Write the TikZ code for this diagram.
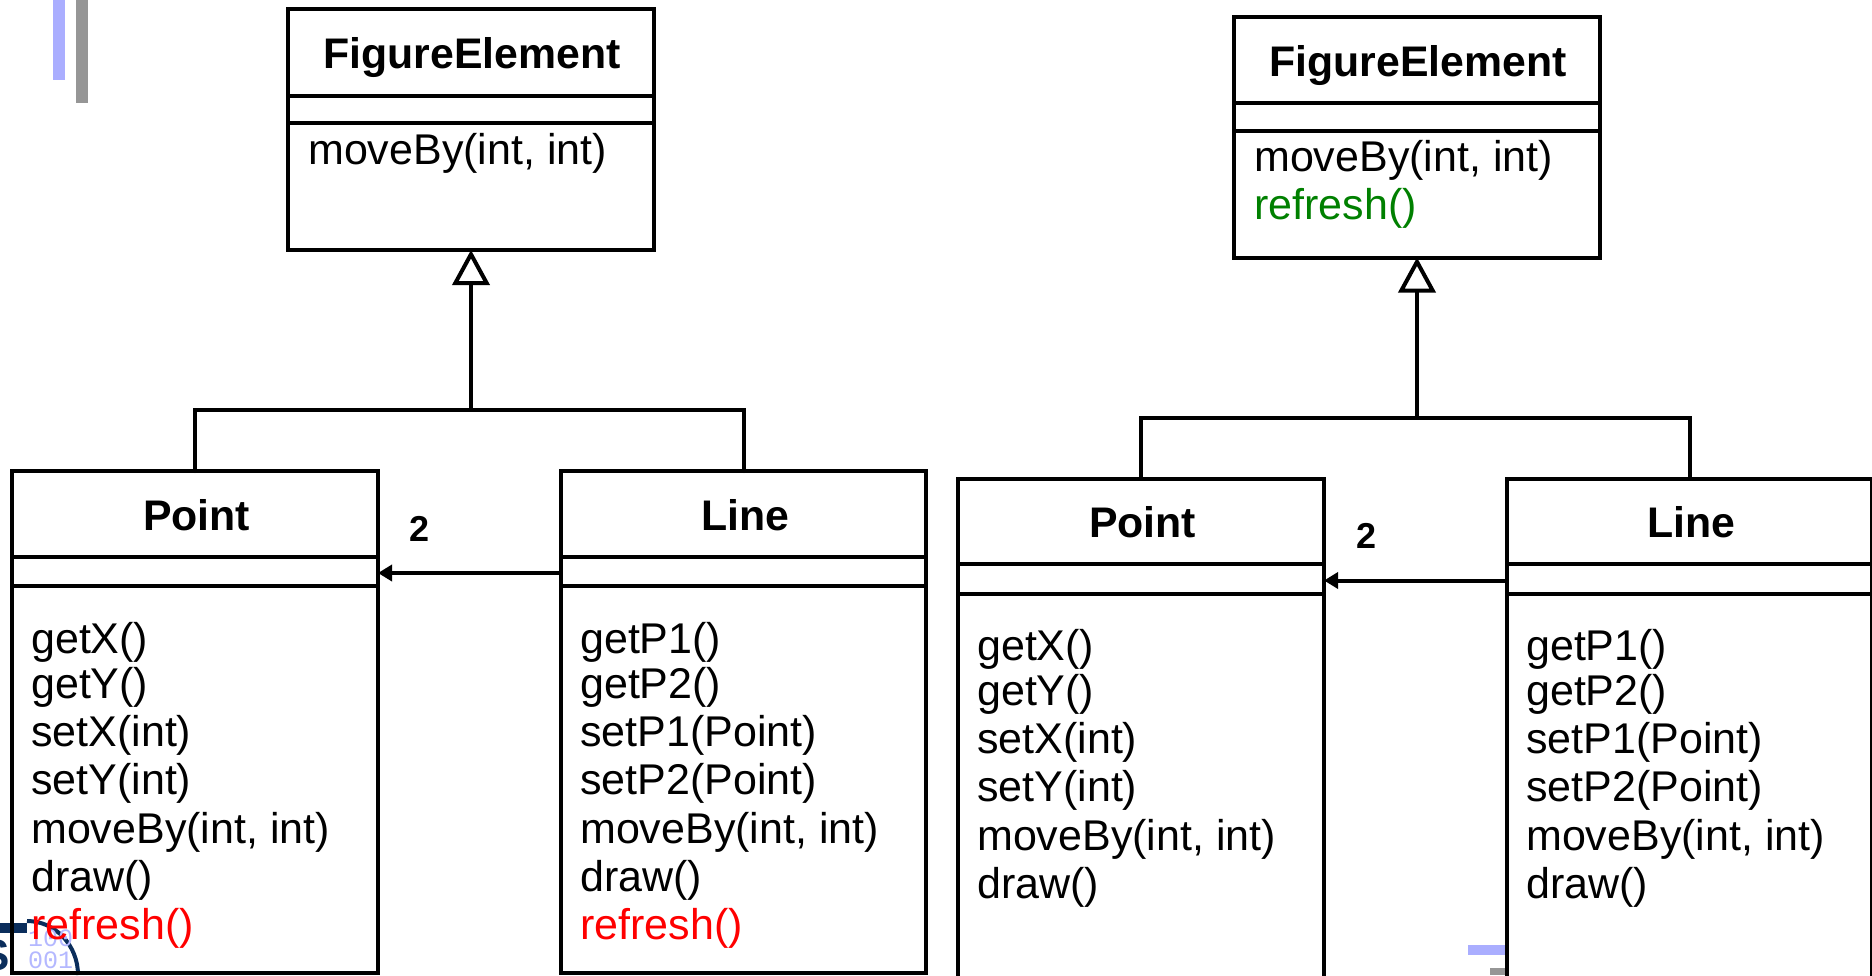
\documentclass[tikz,border=0pt]{standalone}
\usepackage{fontspec}
\setmainfont{Liberation Sans}
\newfontfamily\logomono{Liberation Mono}
\usetikzlibrary{arrows.meta}
\definecolor{logoblue}{HTML}{0B2E5C}
\definecolor{logolight}{HTML}{B4B8FF}
\definecolor{barblue}{HTML}{AAAEFF}
\definecolor{bargray}{HTML}{969696}
\definecolor{addgreen}{HTML}{008000}
\tikzset{
  x=1pt,y=-1pt,
  classbox/.style={draw=black,line width=4pt,rectangle,inner sep=0pt,outer sep=0pt,line join=miter},
  divider/.style={draw=black,line width=4pt},
  title/.style={font=\fontsize{42.8pt}{46pt}\selectfont\bfseries,inner sep=0pt,anchor=base},
  member/.style={font=\fontsize{43pt}{46pt}\selectfont,inner sep=0pt,anchor=base west},
  mult/.style={font=\fontsize{36pt}{40pt}\selectfont\bfseries,inner sep=0pt,anchor=base},
  inherit/.style={draw=black,line width=4pt,-{Triangle[open,length=35pt,width=37pt,line width=4pt,fill=white]}},
  assoc/.style={draw=black,line width=4pt,-{Triangle[length=14pt,width=16pt]}},
  branch/.style={draw=black,line width=4pt,line cap=round},
}
\newcommand{\umlgroup}[1]{%
  \node[classbox,minimum width=366pt,minimum height=241pt] (#1fe) at (471,129.5) {};
  \node[classbox,minimum width=366pt,minimum height=502pt] (#1pt) at (195,722) {};
  \node[classbox,minimum width=365pt,minimum height=502pt] (#1ln) at (743.5,722) {};
  \draw[divider] (#1fe.west |- 0,95.5) coordinate (#1a) -- (#1fe.east |- #1a);
  \draw[divider] (#1fe.west |- 0,123) coordinate (#1b) -- (#1fe.east |- #1b);
  \draw[divider] (#1pt.west |- 0,556.5) coordinate (#1c) -- (#1pt.east |- #1c);
  \draw[divider] (#1pt.west |- 0,586) coordinate (#1d) -- (#1pt.east |- #1d);
  \draw[divider] (#1ln.west |- 0,556.5) coordinate (#1e) -- (#1ln.east |- #1e);
  \draw[divider] (#1ln.west |- 0,586) coordinate (#1f) -- (#1ln.east |- #1f);
  \node[title] (#1fet) at (472,68.5) {FigureElement};
  \node[title] (#1ptt) at (196.5,530) {Point};
  \node[title] (#1lnt) at (745.5,530) {Line};
  \node[member] (#1fem) at (308,164) {moveBy(int, int)};
  \node[member] (#1p1) at (31,653) {getX()};
  \node[member] (#1p2) at (31,698) {getY()};
  \node[member] (#1p3) at (31,746) {setX(int)};
  \node[member] (#1p4) at (31,794) {setY(int)};
  \node[member] (#1p5) at (31,843) {moveBy(int, int)};
  \node[member] (#1p6) at (31,891) {draw()};
  \node[member] (#1l1) at (580,653) {getP1()};
  \node[member] (#1l2) at (580,698) {getP2()};
  \node[member] (#1l3) at (580,746) {setP1(Point)};
  \node[member] (#1l4) at (580,794) {setP2(Point)};
  \node[member] (#1l5) at (580,843) {moveBy(int, int)};
  \node[member] (#1l6) at (580,891) {draw()};
  \node[mult] (#1two) at (420,541) {2};
  \coordinate (#1jn) at (#1fe.south |- 0,410);
  \coordinate (#1jp) at (#1pt.north |- #1jn);
  \coordinate (#1jl) at (#1ln.north |- #1jn);
  \draw[branch] (#1pt.north) -- (#1jp) -- (#1jl) -- (#1ln.north);
  \draw[inherit] (#1jn) -- (#1fe.south);
  \coordinate (#1as) at (#1ln.west |- 0,573);
  \draw[assoc] (#1as) -- (#1pt.east |- #1as);
}
\begin{document}
\begin{tikzpicture}
\useasboundingbox (0,0) rectangle (1872,975);
\clip (0,0) rectangle (1872,975);
% slide decoration
\fill[barblue] (53,0) rectangle (65,80);
\fill[bargray] (76,0) rectangle (88,103);
\fill[barblue] (1468,945) rectangle (1506,955);
\fill[bargray] (1490,968) rectangle (1506,975);
% logo
\draw[logoblue,line width=4pt] (27,921) .. controls (55,921) and (78,945) .. (78,975);
\fill[logoblue] (0,923) rectangle (27,933);
\node[inner sep=0pt,anchor=base east,text=logoblue,font=\fontsize{44pt}{46pt}\selectfont\bfseries] (logos) at (10,970) {S};
\node[inner sep=0pt,anchor=base west,text=logolight,font=\logomono\fontsize{25pt}{26pt}\selectfont] (logo100) at (28,946) {100};
\node[inner sep=0pt,anchor=base west,text=logolight,font=\logomono\fontsize{25pt}{26pt}\selectfont] (logo001) at (28,968) {001};
% left diagram
\umlgroup{L}
\node[member,text=red] (Lp7) at (31,939) {refresh()};
\node[member,text=red] (Ll7) at (580,939) {refresh()};
% right diagram
\begin{scope}[shift={(946,7.5)}]
\umlgroup{R}
\node[member,text=addgreen] (Rfer) at (308,212) {refresh()};
\end{scope}
\end{tikzpicture}
\end{document}
